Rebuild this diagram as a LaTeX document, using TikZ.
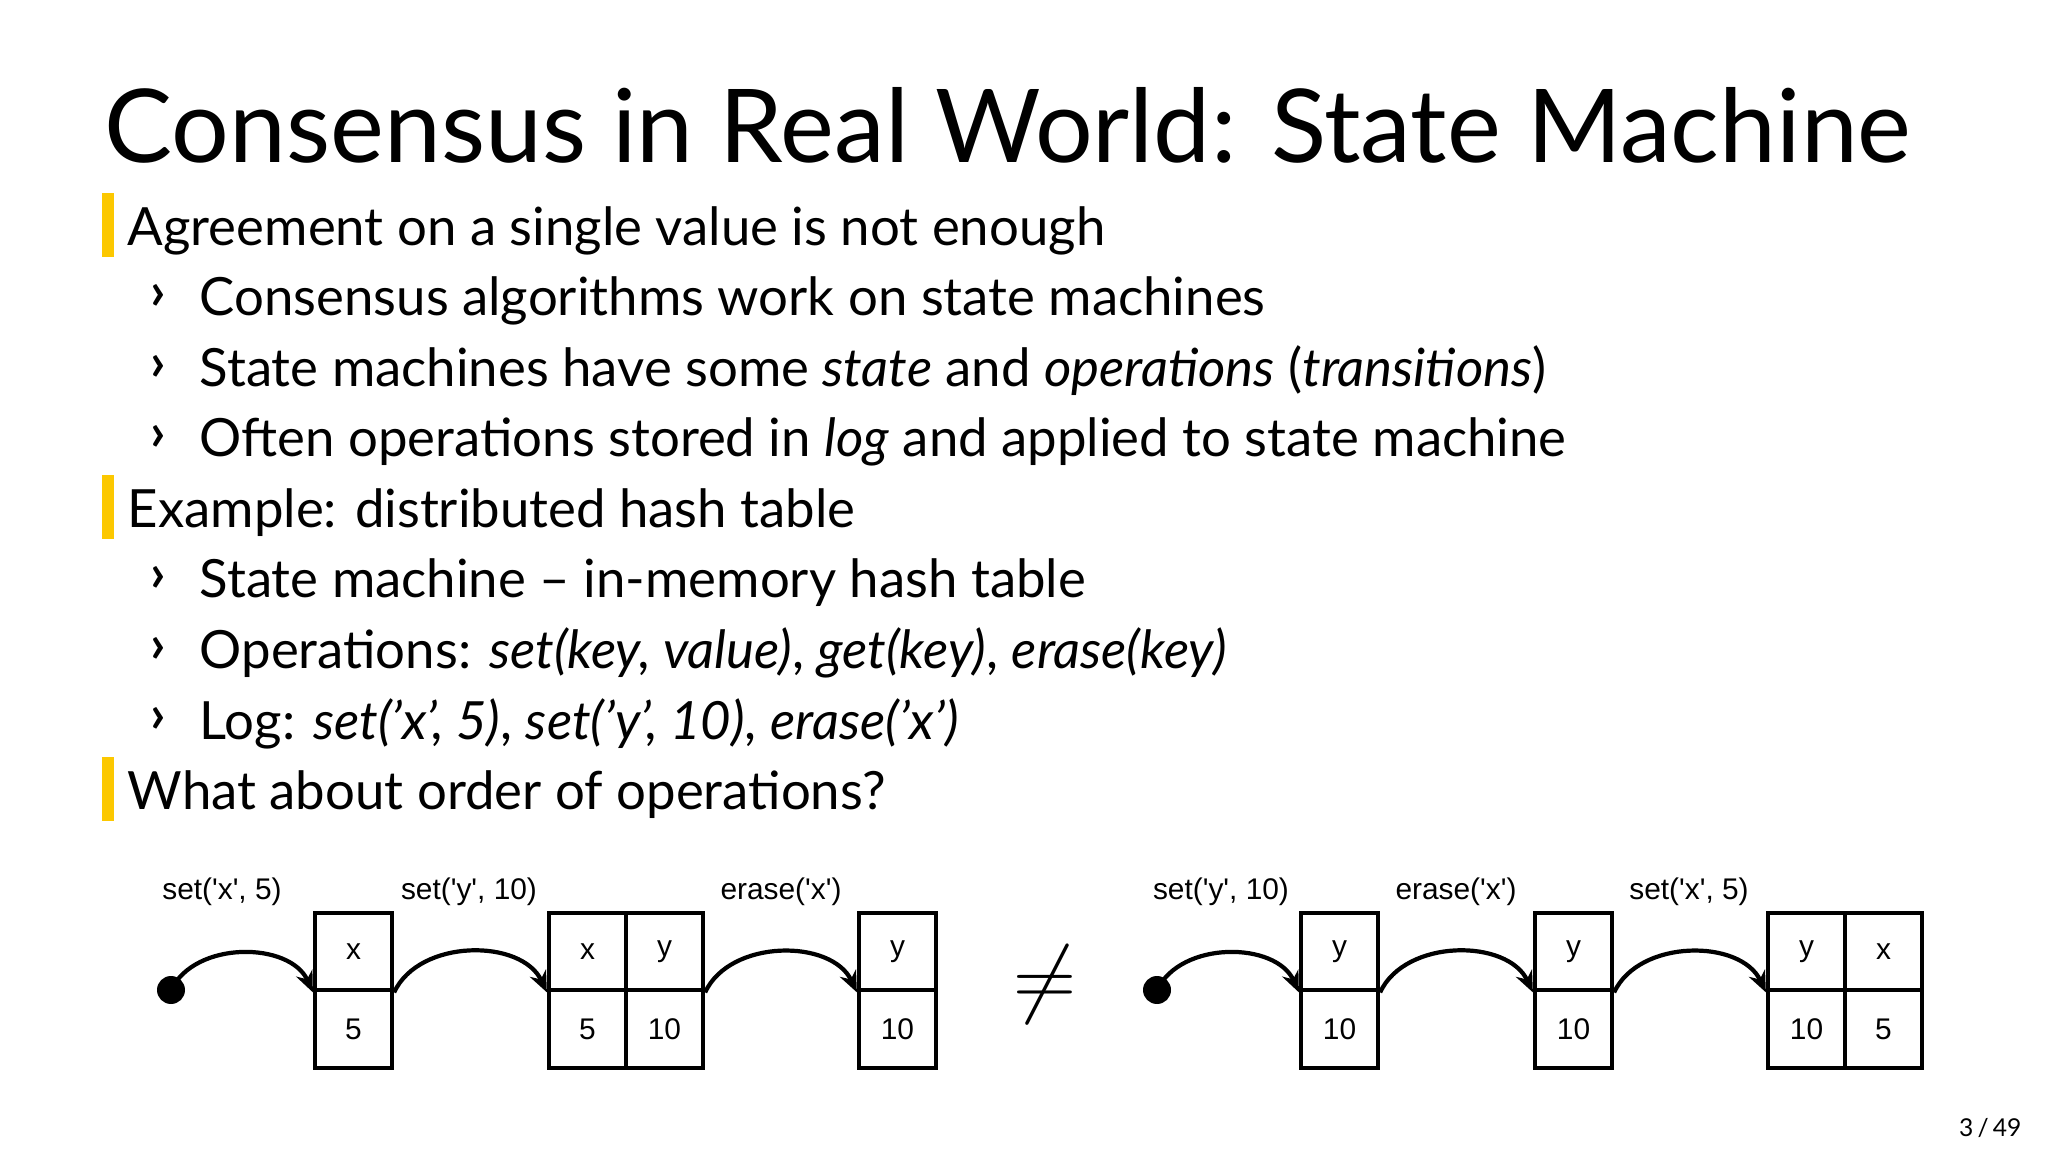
\documentclass[tikz,border=0pt]{standalone}
\usepackage{fontspec}
\setmainfont{Lato}
\newfontfamily\arialfont{Liberation Sans}
\usetikzlibrary{arrows.meta}
\definecolor{barYellow}{RGB}{252,200,0}

\tikzset{
  cell/.style={draw, line width=1.2pt, minimum width=0.77cm, minimum height=0.775cm, inner sep=0pt, font=\arialfont\fontsize{8.5}{10}\selectfont},
  oplabel/.style={font=\arialfont\fontsize{8.5}{10}\selectfont, anchor=base},
  trans/.style={-{Stealth[length=6pt,width=5pt]}, line width=1.2pt, bend left=65},
  item/.style={anchor=base west, font=\fontsize{15}{18}\selectfont, inner sep=0pt},
  subitem/.style={anchor=base west, font=\fontsize{15}{18}\selectfont, inner sep=0pt}
}

\begin{document}
\begin{tikzpicture}
  \useasboundingbox (0,0) rectangle (20.48,-11.52);

  % Titel
  \node[anchor=base west, inner sep=0pt, font=\fontsize{29}{34}\selectfont] (title) at (1.04,-1.63) {Consensus in Real World: State Machine};

  % Punkte
  \foreach \y in {2.46,5.28,8.10}
    \fill[fill=barYellow] (1.02,0.53-\y) rectangle (1.14,-0.11-\y);
  \node[item] (p1) at (1.27,-2.46) {Agreement on a single value is not enough};
  \node[subitem] (p1a) at (1.99,-3.16) {Consensus algorithms work on state machines};
  \node[subitem] (p1b) at (1.99,-3.87) {State machines have some \textit{state} and \textit{operations} (\textit{transitions})};
  \node[subitem] (p1c) at (1.99,-4.57) {Often operations stored in \textit{log} and applied to state machine};
  \node[item] (p2) at (1.27,-5.28) {Example: distributed hash table};
  \node[subitem] (p2a) at (1.99,-5.98) {State machine – in-memory hash table};
  \node[subitem] (p2b) at (1.99,-6.69) {Operations: \textit{set(key, value)}, \textit{get(key)}, \textit{erase(key)}};
  \node[subitem] (p2c) at (1.99,-7.39) {Log: \textit{set(’x’, 5)}, \textit{set(’y’, 10)}, \textit{erase(’x’)}};
  \node[item] (p3) at (1.27,-8.10) {What about order of operations?};
  \foreach \y in {3.16,3.87,4.57,5.98,6.69,7.39}
    \node[anchor=base, inner sep=0pt, font=\bfseries\fontsize{15}{18}\selectfont] at (1.58,0.06-\y) {›};

  % Kette links
  \fill (1.71,-9.90) circle (0.14) coordinate (s1);
  \node[cell] (a1k) at (3.535,-9.515) {x};
  \node[cell] (a1v) at (3.535,-10.29) {5};
  \node[cell] (a2k) at (5.875,-9.515) {x};
  \node[cell] (a2v) at (5.875,-10.29) {5};
  \node[cell] (a3k) at (6.645,-9.515) {y};
  \node[cell] (a3v) at (6.645,-10.29) {10};
  \node[cell] (a4k) at (8.975,-9.515) {y};
  \node[cell] (a4v) at (8.975,-10.29) {10};
  \draw[trans] (s1) to (a1k.south west);
  \draw[trans] (a1k.south east) to (a2k.south west);
  \draw[trans] (a3k.south east) to (a4k.south west);
  \node[oplabel] (la1) at (2.22,-8.99) {set('x', 5)};
  \node[oplabel] (la2) at (4.69,-8.99) {set('y', 10)};
  \node[oplabel] (la3) at (7.81,-8.99) {erase('x')};

  \node[font=\fontsize{52}{52}\selectfont] (neq) at (10.45,-9.85) {$\neq$};

  % Kette rechts
  \fill (11.57,-9.90) circle (0.14) coordinate (s2);
  \node[cell] (b1k) at (13.395,-9.515) {y};
  \node[cell] (b1v) at (13.395,-10.29) {10};
  \node[cell] (b2k) at (15.735,-9.515) {y};
  \node[cell] (b2v) at (15.735,-10.29) {10};
  \node[cell] (b3k) at (18.065,-9.515) {y};
  \node[cell] (b3v) at (18.065,-10.29) {10};
  \node[cell] (b4k) at (18.835,-9.515) {x};
  \node[cell] (b4v) at (18.835,-10.29) {5};
  \draw[trans] (s2) to (b1k.south west);
  \draw[trans] (b1k.south east) to (b2k.south west);
  \draw[trans] (b2k.south east) to (b3k.south west);
  \node[oplabel] (lb1) at (12.21,-8.99) {set('y', 10)};
  \node[oplabel] (lb2) at (14.56,-8.99) {erase('x')};
  \node[oplabel] (lb3) at (16.89,-8.99) {set('x', 5)};

  \node[anchor=base east, inner sep=0pt, font=\fontsize{7}{8}\selectfont] (page) at (20.22,-11.36) {3\,/\,49};
\end{tikzpicture}
\end{document}
